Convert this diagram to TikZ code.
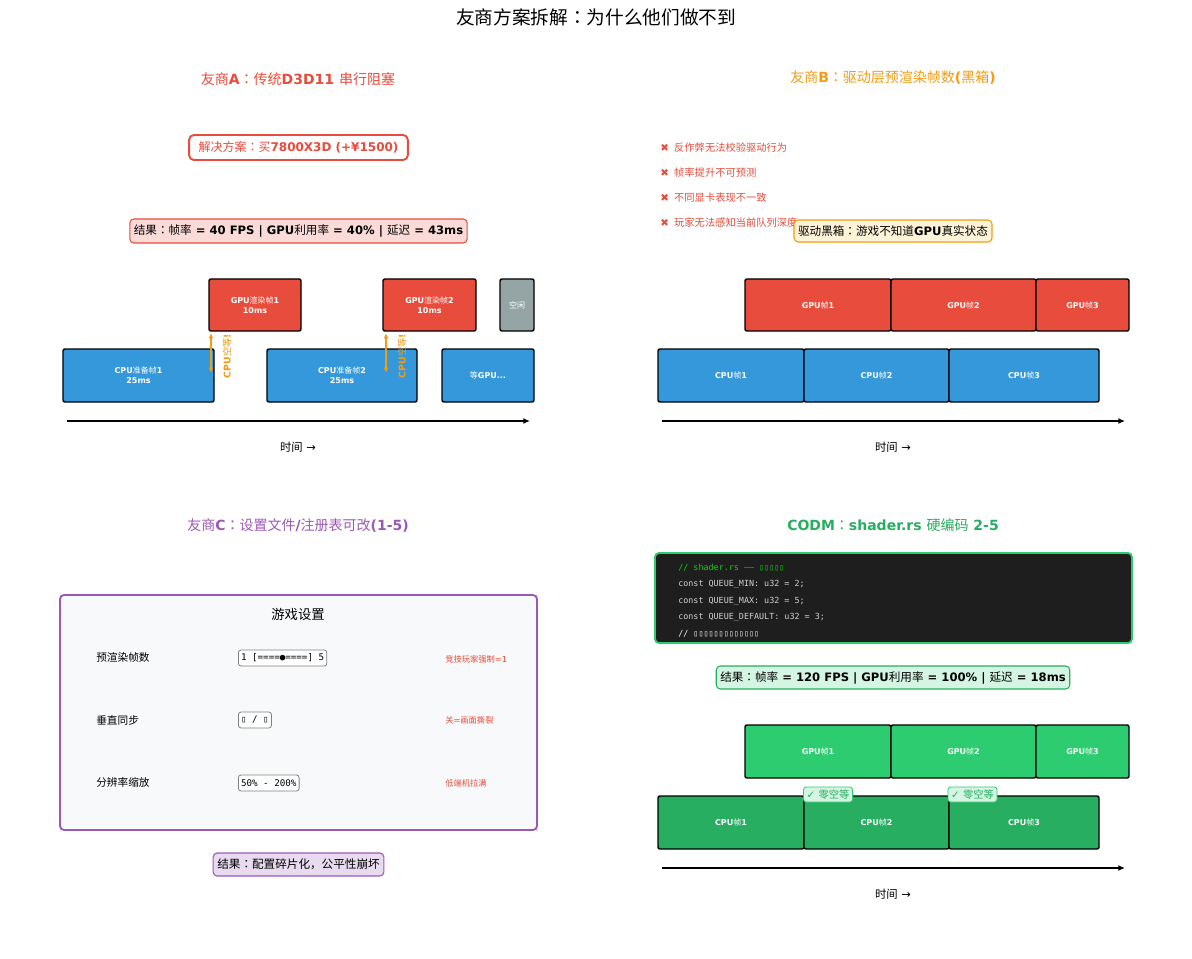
\documentclass[tikz,border=0pt]{standalone}
\usepackage{fontspec}
\setmainfont{DejaVu Sans}
\setmonofont{DejaVu Sans Mono}
\newfontfamily\cjkfam{Noto Sans CJK SC}
\newfontfamily\cjkcolfam{Noto Sans CJK TC}
\usetikzlibrary{arrows.meta}
% automatic switch to the CJK font for CJK characters
\XeTeXinterchartokenstate=1
\newXeTeXintercharclass\CJKcls
\newXeTeXintercharclass\COLcls
\newcount\cjkcnt
\cjkcnt="3000
\loop\XeTeXcharclass\cjkcnt=\CJKcls\advance\cjkcnt by 1 \ifnum\cjkcnt<"3040 \repeat
\cjkcnt="4E00
\loop\XeTeXcharclass\cjkcnt=\CJKcls\advance\cjkcnt by 1 \ifnum\cjkcnt<"A000 \repeat
\cjkcnt="FF00
\loop\XeTeXcharclass\cjkcnt=\CJKcls\advance\cjkcnt by 1 \ifnum\cjkcnt<"FF60 \repeat
\XeTeXcharclass"FF1A=\COLcls
\XeTeXinterchartoks 0 \CJKcls={\begingroup\cjkfam\mdseries}
\XeTeXinterchartoks 4095 \CJKcls={\begingroup\cjkfam\mdseries}
\XeTeXinterchartoks \CJKcls 0={\endgroup}
\XeTeXinterchartoks \CJKcls 4095={\endgroup}
\XeTeXinterchartoks 0 \COLcls={\begingroup\cjkcolfam\mdseries}
\XeTeXinterchartoks 4095 \COLcls={\begingroup\cjkcolfam\mdseries}
\XeTeXinterchartoks \CJKcls \COLcls={\endgroup\begingroup\cjkcolfam\mdseries}
\XeTeXinterchartoks \COLcls \CJKcls={\endgroup\begingroup\cjkfam\mdseries}
\XeTeXinterchartoks \COLcls 0={\endgroup}
\XeTeXinterchartoks \COLcls 4095={\endgroup}

\definecolor{cRed}{HTML}{E74C3C}
\definecolor{cRedL}{HTML}{FADBD8}
\definecolor{cBlue}{HTML}{3498DB}
\definecolor{cGray}{HTML}{95A5A6}
\definecolor{cOrange}{HTML}{F39C12}
\definecolor{cYelL}{HTML}{FEF3D6}
\definecolor{cPurple}{HTML}{9B59B6}
\definecolor{cPurpleL}{HTML}{E8DAEF}
\definecolor{cGreen}{HTML}{27AE60}
\definecolor{cGreenL}{HTML}{2ECC71}
\definecolor{cGreenXL}{HTML}{D5F5E3}
\definecolor{cPanel}{HTML}{F8F9FA}
\definecolor{cCode}{HTML}{1E1E1E}
\definecolor{cCodeTxt}{HTML}{D0D0D0}
\definecolor{cComment}{HTML}{10D010}

\tikzset{
  tlb/.style={draw=black, line width=1.1pt, rounded corners=1.5pt, inner sep=0pt,
    text=white, font=\fontsize{6}{7.5}\selectfont\bfseries, align=center},
  ttl/.style={font=\fontsize{10.5}{12}\selectfont\bfseries},
  res/.style={draw, line width=0.8pt, rounded corners=3pt, inner xsep=3pt, inner ysep=0pt,
    font=\fontsize{8.7}{10}\selectfont\bfseries, text=black},
  axis/.style={line width=1.3pt, -{Latex[length=5pt,width=4.5pt]}},
  tlabel/.style={font=\fontsize{8.5}{10}\selectfont},
  warr/.style={draw=cOrange, line width=1.2pt, {Latex[length=4pt,width=3.5pt]}-{Latex[length=4pt,width=3.5pt]}},
  wtext/.style={rotate=90, text=cOrange, font=\fontsize{7}{8}\selectfont\bfseries},
  bitem/.style={anchor=west, text=cRed, font=\fontsize{7.7}{9}\selectfont, inner sep=0pt},
  slabel/.style={anchor=west, font=\fontsize{8}{9}\selectfont, inner sep=0pt},
  sctrl/.style={anchor=west, draw=gray, line width=0.6pt, fill=white, rounded corners=2pt,
    font=\ttfamily\fontsize{6.9}{8}\selectfont, inner xsep=2pt, minimum height=12pt, inner ysep=0pt},
  snote/.style={anchor=west, text=cRed, font=\fontsize{6.2}{7}\selectfont, inner sep=0pt},
  code/.style={anchor=west, font=\ttfamily\fontsize{6.3}{7}\selectfont, text=cCodeTxt, inner sep=0pt},
  badge/.style={draw=cGreenL, line width=0.6pt, fill=cGreenXL, rounded corners=2pt, text=cGreen,
    font=\fontsize{7.7}{8}\selectfont, minimum width=36.75pt, minimum height=11.25pt, inner sep=0pt}
}
\newcommand\tlbox[7]{%
  \node[tlb, fill=#6, minimum width={(#4-#2)*0.75pt}, minimum height={(#5-#3)*0.75pt}]
    (#1) at ({(#2+#4)/2},{(#3+#5)/2}) {#7};}

\begin{document}
\begin{tikzpicture}[x=0.75pt,y=-0.75pt]
\useasboundingbox[fill=white] (0,0) rectangle (1192,959);

% main title
\node[font=\fontsize{14}{16}\selectfont] (title) at (596,17) {友商方案拆解：为什么他们做不到};

% ================= Panel A =================
\node[ttl, text=cRed] (tA) at (298,79) {友商A：传统D3D11 串行阻塞};
\node[draw=cRed, line width=1.4pt, rounded corners=3.5pt, fill=white, text=cRed,
  font=\fontsize{9}{11}\selectfont\bfseries, minimum width=164pt, minimum height=18.75pt,
  inner xsep=3pt, inner ysep=0pt] (solA) at (298.5,147.5) {解决方案：买7800X3D (+¥1500)};
\node[res, draw=cRed, fill=cRedL, minimum width=251pt, minimum height=18pt] (resA) at (298.5,231)
  {结果：帧率 = 40 FPS | GPU利用率 = 40\% | 延迟 = 43ms};

\tlbox{gA1}{209}{279}{301}{331}{cRed}{GPU渲染帧1\\10ms}
\tlbox{gA2}{383}{279}{476}{331}{cRed}{GPU渲染帧2\\10ms}
\tlbox{idA}{500}{279}{534}{331}{cGray}{空闲}
\tlbox{cA1}{63}{349}{214}{402}{cBlue}{CPU准备帧1\\25ms}
\tlbox{cA2}{267}{349}{417}{402}{cBlue}{CPU准备帧2\\25ms}
\tlbox{cA3}{442}{349}{534}{402}{cBlue}{等GPU...}

\coordinate (w1t) at (211,333);
\coordinate (w1b) at (211,373);
\draw[warr] (w1t) -- (w1b);
\node[wtext] (w1l) at (227,356) {CPU空等!};
\coordinate (w2t) at (386,333);
\coordinate (w2b) at (386,373);
\draw[warr] (w2t) -- (w2b);
\node[wtext] (w2l) at (402,356) {CPU空等!};

\coordinate (axA0) at (67,421);
\coordinate (axA1) at (530,421);
\draw[axis] (axA0) -- (axA1);
\node[tlabel] (tmA) at (298,447) {时间 →};

% ================= Panel B =================
\node[ttl, text=cOrange] (tB) at (893,78) {友商B：驱动层预渲染帧数(黑箱)};
\node[bitem] (b1) at (660,148) {✖\hspace{4pt}反作弊无法校验驱动行为};
\node[bitem] (b2) at (660,173) {✖\hspace{4pt}帧率提升不可预测};
\node[bitem] (b3) at (660,198) {✖\hspace{4pt}不同显卡表现不一致};
\node[bitem] (b4) at (660,223) {✖\hspace{4pt}玩家无法感知当前队列深度};
\node[res, draw=cOrange, fill=cYelL, minimum width=148.5pt, minimum height=16.5pt] (boxB) at (893,231)
  {驱动黑箱：游戏不知道GPU真实状态};

\tlbox{gB1}{745}{279}{891}{331}{cRed}{GPU帧1}
\tlbox{gB2}{891}{279}{1036}{331}{cRed}{GPU帧2}
\tlbox{gB3}{1036}{279}{1129}{331}{cRed}{GPU帧3}
\tlbox{cB1}{658}{349}{804}{402}{cBlue}{CPU帧1}
\tlbox{cB2}{804}{349}{949}{402}{cBlue}{CPU帧2}
\tlbox{cB3}{949}{349}{1099}{402}{cBlue}{CPU帧3}

\coordinate (axB0) at (662,421);
\coordinate (axB1) at (1125,421);
\draw[axis] (axB0) -- (axB1);
\node[tlabel] (tmB) at (893,447) {时间 →};

% ================= Panel C =================
\node[ttl, text=cPurple] (tC) at (298,525) {友商C：设置文件/注册表可改(1-5)};
\node[draw=cPurple, line width=1.4pt, fill=cPanel, rounded corners=3pt, inner sep=0pt,
  minimum width=357.75pt, minimum height=176.25pt] (panelC) at (298.5,712.5) {};
\node[font=\fontsize{10}{12}\selectfont] (gsC) at (298,614) {游戏设置};

\node[slabel] (l1) at (96,657) {预渲染帧数};
\node[slabel] (l2) at (96,720) {垂直同步};
\node[slabel] (l3) at (96,782) {分辨率缩放};
\node[sctrl] (s1) at (238,658) {1 [====●====] 5};
\node[sctrl] (s2) at (238,720) {▯ / ▯};
\node[sctrl] (s3) at (238,783) {50\% - 200\%};
\node[snote] (n1) at (445,659) {竞技玩家强制=1};
\node[snote] (n2) at (445,720) {关=画面撕裂};
\node[snote] (n3) at (445,783) {低端机拉满};

\node[res, draw=cPurple, fill=cPurpleL, minimum width=128pt, minimum height=17.25pt] (resC) at (298.5,864.5)
  {结果：配置碎片化，公平性崩坏};

% ================= Panel D =================
\node[ttl, text=cGreen] (tD) at (893,525) {CODM：shader.rs 硬编码 2-5};
\node[draw=cGreenL, line width=1.4pt, fill=cCode, rounded corners=3pt, inner sep=0pt,
  minimum width=357.75pt, minimum height=67.5pt] (codeD) at (893.5,598) {};
\node[code, text=cComment] (k1) at (678,568) {// shader.rs —— ▯▯▯▯▯};
\node[code] (k2) at (678,584.5) {const QUEUE\_MIN: u32 = 2;};
\node[code] (k3) at (678,601) {const QUEUE\_MAX: u32 = 5;};
\node[code] (k4) at (678,617.5) {const QUEUE\_DEFAULT: u32 = 3;};
\node[code, text=white!92!gray] (k5) at (678,634) {// ▯▯▯▯▯▯▯▯▯▯▯▯▯};

\node[res, draw=cGreen, fill=cGreenXL, minimum width=262.5pt, minimum height=17.25pt] (resD) at (893,677.5)
  {结果：帧率 = 120 FPS | GPU利用率 = 100\% | 延迟 = 18ms};

\tlbox{gD1}{745}{725}{891}{778}{cGreenL}{GPU帧1}
\tlbox{gD2}{891}{725}{1036}{778}{cGreenL}{GPU帧2}
\tlbox{gD3}{1036}{725}{1129}{778}{cGreenL}{GPU帧3}
\tlbox{cD1}{658}{796}{804}{849}{cGreen}{CPU帧1}
\tlbox{cD2}{804}{796}{949}{849}{cGreen}{CPU帧2}
\tlbox{cD3}{949}{796}{1099}{849}{cGreen}{CPU帧3}
\node[badge] (z1) at (828,794.5) {✓ 零空等};
\node[badge] (z2) at (972.5,794.5) {✓ 零空等};

\coordinate (axD0) at (662,868);
\coordinate (axD1) at (1125,868);
\draw[axis] (axD0) -- (axD1);
\node[tlabel] (tmD) at (893,894) {时间 →};
\end{tikzpicture}
\end{document}
